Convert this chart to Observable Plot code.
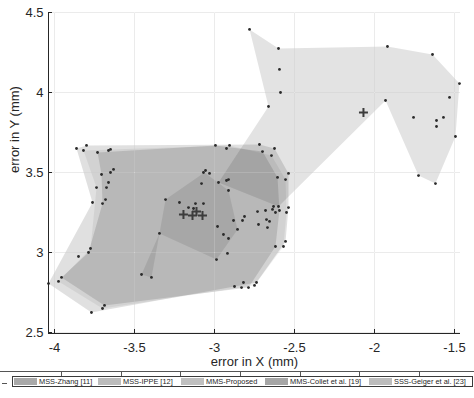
<!DOCTYPE html>
<html><head><meta charset="utf-8">
<script src="https://cdn.jsdelivr.net/npm/d3@7"></script>
<script src="https://cdn.jsdelivr.net/npm/@observablehq/plot@0.6"></script>
<style>
body{margin:0;background:#fff;font-family:"Liberation Sans",Arial,sans-serif;}
#wrap{position:relative;width:474px;height:398px;overflow:hidden;}
#chart svg{display:block;}
#sep{position:absolute;left:0;top:371px;width:474px;height:1px;background:#555;}
#septicks{position:absolute;left:61px;top:372px;width:362px;height:4px;background:repeating-linear-gradient(to right,#555 0 1px,transparent 1px 59.67px);}
#dash{position:absolute;left:2px;top:383px;width:5px;height:1px;background:#555;}
#legend{position:absolute;left:12px;top:376px;width:459px;height:9px;border:1px solid #3a3a3a;background:#fff;}
.item{position:absolute;top:0;height:9px;display:flex;align-items:center;white-space:nowrap;font-size:7.4px;color:#262626;}
.sw{width:23px;height:7px;margin-right:2px;}
</style></head>
<body><div id="wrap"><div id="chart"></div><div id="sep"></div><div id="septicks"></div><div id="dash"></div><div id="legend"></div></div>
<script>
// ---- data ----
const xTicks = [-4, -3.5, -3, -2.5, -2, -1.5];
const yTicks = [2.5, 3, 3.5, 4, 4.5];
const methods = ["MSS-Zhang [11]", "MSS-IPPE [12]", "MMS-Proposed", "MMS-Collet et al. [19]", "SSS-Geiger et al. [23]"];

const polyZhang = [[-3.306,3.331],[-3.0625,3.5],[-2.9125,3.3875],[-2.856,3.144],[-2.9875,2.956],[-3.344,3.119],[-3.394,2.844],[-3.456,2.8625],[-3.344,3.119]];
const polyIPPE = [[-3.8625,3.65],[-3.8,3.669],[-2.719,3.675],[-2.625,3.65],[-2.5375,3.494],[-2.5375,3.281],[-2.556,3.069],[-2.7375,2.8125],[-2.875,2.7875],[-3.769,2.625],[-4.0375,2.806],[-3.7625,3.3125]];
const polyProposed = [[-3.819,3.6375],[-3.65,3.644],[-2.906,3.669],[-2.644,3.606],[-2.556,3.456],[-2.55,3.25],[-2.569,3.0375],[-2.75,2.794],[-3.7,2.65],[-3.975,2.819],[-3.775,3.025],[-3.7375,3.406]];
const polyCollet = [[-3.731,3.625],[-2.994,3.669],[-2.7,3.631],[-2.606,3.469],[-2.594,3.2625],[-2.619,3.0375],[-2.7875,2.781],[-3.6875,2.669],[-3.956,2.844],[-3.7875,3.0],[-3.7,3.306],[-3.706,3.4875]];
const polyGeiger = [[-2.781,4.394],[-2.6,4.275],[-1.919,4.2875],[-1.6375,4.2375],[-1.469,4.056],[-1.494,3.725],[-1.619,3.431],[-1.725,3.481],[-1.931,3.95],[-2.6,3.2875],[-2.975,3.4375],[-2.6625,3.9125]];

const pointsX = [-3.8625,-3.819,-3.8,-3.731,-3.6625,-3.65,-3.706,-3.65,-3.631,-3.7375,-3.675,-3.6625,-3.681,-3.7625,-3.7,-3.306,-3.081,-3.069,-3.056,-3.031,-2.994,-2.925,-2.906,-2.975,-2.925,-2.9125,-2.9125,
 -2.781,-2.6,-2.594,-2.5875,-2.6625,-1.919,-1.6375,-1.469,-1.531,-1.931,-1.756,-1.6125,-1.569,-1.6125,-1.494,-1.725,-1.619,-2.719,-2.7,-2.625,-2.644,-2.606,-2.5375,-2.556,
 -4.0375,-3.975,-3.956,-3.85,-3.7875,-3.775,-3.769,-3.7,-3.6875,-3.456,-3.394,-3.344,-3.219,-3.1625,-3.119,-3.069,-3.131,-2.981,-2.944,-2.9125,-2.881,-2.856,-2.919,-2.9875,
 -2.875,-2.831,-2.819,-2.7875,-2.75,-2.7375,-2.731,-2.681,-2.6375,-2.631,-2.6,-2.619,-2.594,-2.55,-2.5375,-2.825,-2.8125,-2.725,-2.675,-2.656,-2.669,-2.556,-2.569,-2.619];
const pointsY = [3.65,3.6375,3.669,3.625,3.6375,3.644,3.4875,3.5,3.519,3.406,3.406,3.4375,3.331,3.3125,3.306,3.331,3.431,3.5,3.5125,3.494,3.669,3.65,3.669,3.4375,3.45,3.456,3.3875,
 4.394,4.275,4.144,4.0,3.9125,4.2875,4.2375,4.056,3.969,3.95,3.844,3.825,3.844,3.7875,3.725,3.481,3.431,3.675,3.631,3.65,3.606,3.469,3.494,3.456,
 2.806,2.819,2.844,2.975,3.0,3.025,2.625,2.65,2.669,2.8625,2.844,3.119,3.3125,3.281,3.306,3.306,3.275,3.1625,3.1125,3.0875,3.2,3.144,2.994,2.956,
 2.7875,2.781,2.8125,2.781,2.794,2.8125,3.256,3.2625,3.269,3.2875,3.2875,3.25,3.2625,3.25,3.281,3.2,3.225,3.175,3.206,3.194,3.156,3.069,3.0375,3.0375];

const centroidX = [-3.194, -3.1375, -3.1125, -3.075, -2.069];
const centroidY = [3.2375, 3.231, 3.256, 3.231, 3.875];

// ---- styles / layout ----
const polyList = [
  {pts: polyGeiger, op: 0.11},
  {pts: polyIPPE, op: 0.12},
  {pts: polyProposed, op: 0.06},
  {pts: polyCollet, op: 0.12},
  {pts: polyZhang, op: 0.09}
];
const swatchColors = ["#a9a9a9", "#bcbcbc", "#c0c0c0", "#a6a6a6", "#bdbdbd"];
const legendLeft = [1, 85, 168, 252, 356];

const xDomain = [-4.0375, -1.4625];
const yDomain = [2.49375, 4.5];
const tickLen = 4 / 160;
const ink = "#262626";

const points = pointsX.map((x, i) => ({x, y: pointsY[i]}));
const cents = centroidX.map((x, i) => ({x, y: centroidY[i]}));

const marks = [
  Plot.ruleX(xTicks, {x: d => d, y1: yDomain[0], y2: yDomain[1], stroke: "#e3e3e3", strokeWidth: 1}),
  Plot.ruleY(yTicks, {y: d => d, x1: xDomain[0], x2: xDomain[1], stroke: "#e3e3e3", strokeWidth: 1})
];
for (const p of polyList) {
  marks.push(Plot.line(p.pts, {x: d => d[0], y: d => d[1], fill: "#000", fillOpacity: p.op, stroke: "none", curve: "linear-closed"}));
}
marks.push(
  Plot.ruleX(xTicks, {x: d => d, y1: yDomain[0], y2: yDomain[1], stroke: "#fff", strokeOpacity: 0.3}),
  Plot.ruleY(yTicks, {y: d => d, x1: xDomain[0], x2: xDomain[1], stroke: "#fff", strokeOpacity: 0.3}),
  Plot.dot(points, {x: "x", y: "y", r: 1.4, fill: "#2b2b2b", stroke: "none"}),
  Plot.dot(cents, {x: "x", y: "y", symbol: "plus", r: 3, stroke: "#3c3c3c", strokeWidth: 2}),
  // axes
  Plot.ruleX([xDomain[0]], {y1: yDomain[0], y2: yDomain[1], stroke: ink}),
  Plot.ruleY([yDomain[0]], {x1: xDomain[0], x2: xDomain[1], stroke: ink}),
  Plot.ruleY(yTicks, {y: d => d, x1: xDomain[0], x2: xDomain[0] + tickLen, stroke: ink}),
  Plot.ruleX(xTicks, {x: d => d, y1: yDomain[0], y2: yDomain[0] + tickLen, stroke: ink}),
  Plot.text(xTicks, {x: d => d, y: yDomain[0], dy: 14, text: d => String(d), fontSize: 13, fill: ink}),
  Plot.text(yTicks, {x: xDomain[0], y: d => d, dx: -5, textAnchor: "end", text: d => String(d), fontSize: 13, fill: ink}),
  Plot.text(["error in X (mm)"], {frameAnchor: "bottom", dy: 32, text: d => d, fontSize: 13, fill: ink}),
  Plot.text(["error in Y (mm)"], {frameAnchor: "left", dx: -34, rotate: -90, text: d => d, fontSize: 13, fill: ink})
);

const chart = Plot.plot({
  width: 474, height: 371,
  marginLeft: 48, marginRight: 14, marginTop: 12, marginBottom: 38,
  x: {domain: xDomain, axis: null},
  y: {domain: yDomain, axis: null},
  style: {fontFamily: "'Liberation Sans', Arial, sans-serif", background: "#fff", overflow: "visible"},
  marks
});
document.getElementById("chart").appendChild(chart);

const leg = document.getElementById("legend");
methods.forEach((m, i) => {
  const it = document.createElement("div");
  it.className = "item";
  it.style.left = legendLeft[i] + "px";
  const sw = document.createElement("div");
  sw.className = "sw";
  sw.style.background = swatchColors[i];
  const t = document.createElement("span");
  t.textContent = m;
  it.appendChild(sw); it.appendChild(t);
  leg.appendChild(it);
});
</script></body></html>
